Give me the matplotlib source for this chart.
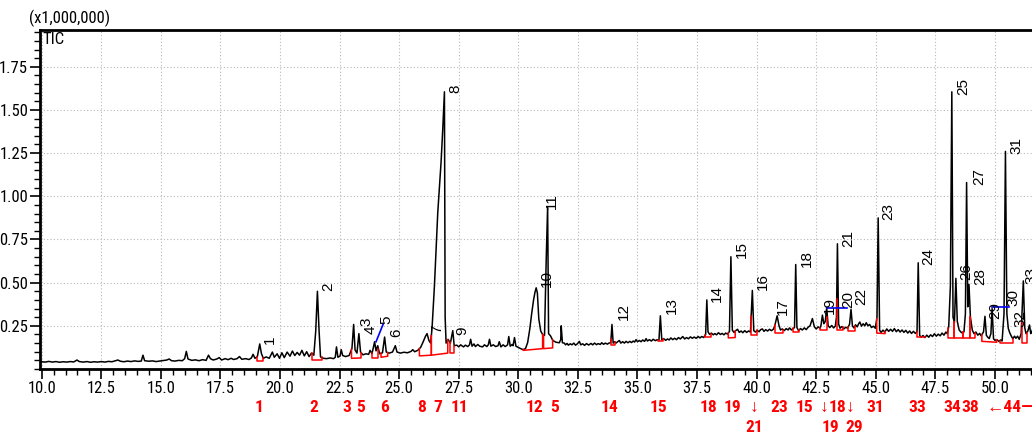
import matplotlib
matplotlib.use("Agg")
import matplotlib.pyplot as plt
import matplotlib.transforms as mtransforms
from matplotlib import font_manager
from matplotlib.ticker import MultipleLocator, FormatStrFormatter
import numpy as np

# the original uses a narrow Arial-like face; take a condensed one when it is there
installed = {f.name for f in font_manager.fontManager.ttflist}
condensed = [n for n in ['Liberation Sans Narrow', 'Arial Narrow', 'Roboto Condensed',
                         'Open Sans Condensed', 'DejaVu Sans Condensed'] if n in installed]
if condensed:
    narrow = [condensed[0], 'Liberation Sans', 'DejaVu Sans']
    fs = 12
else:
    narrow = ['Liberation Sans', 'DejaVu Sans']
    fs = 10
regular = ['Liberation Sans', 'DejaVu Sans']
plt.rcParams['font.family'] = narrow

# TIC trace: (retention time min, intensity x1,000,000)
trace = [
    (10.0, 0.042), (10.15, 0.040), (10.3, 0.044), (10.45, 0.040), (10.6, 0.043), (10.75, 0.039),
    (10.9, 0.042), (11.05, 0.040), (11.2, 0.043), (11.35, 0.041), (11.48, 0.052), (11.58, 0.043),
    (11.75, 0.040), (11.9, 0.043), (12.05, 0.039), (12.2, 0.042), (12.35, 0.040), (12.5, 0.043),
    (12.65, 0.040), (12.8, 0.044), (12.95, 0.042), (13.1, 0.048), (13.2, 0.052), (13.3, 0.045),
    (13.45, 0.042), (13.6, 0.046), (13.75, 0.043), (13.9, 0.047), (14.05, 0.044), (14.18, 0.046),
    (14.25, 0.080), (14.32, 0.048), (14.5, 0.045), (14.65, 0.047), (14.8, 0.043), (14.95, 0.046),
    (15.1, 0.049), (15.25, 0.052), (15.35, 0.058), (15.45, 0.048), (15.6, 0.046), (15.75, 0.050),
    (15.9, 0.048), (16.0, 0.060), (16.07, 0.102), (16.14, 0.058), (16.3, 0.050), (16.45, 0.053),
    (16.6, 0.048), (16.75, 0.054), (16.9, 0.050), (17.0, 0.080), (17.08, 0.060), (17.2, 0.052),
    (17.35, 0.058), (17.45, 0.066), (17.55, 0.052), (17.7, 0.060), (17.82, 0.054), (17.95, 0.062),
    (18.05, 0.055), (18.2, 0.060), (18.3, 0.072), (18.4, 0.056), (18.55, 0.060), (18.7, 0.055),
    (18.8, 0.064), (18.87, 0.085), (18.95, 0.062), (19.05, 0.072), (19.15, 0.145), (19.22, 0.090),
    (19.3, 0.062), (19.42, 0.070), (19.55, 0.062), (19.68, 0.098), (19.76, 0.068), (19.88, 0.088),
    (19.98, 0.062), (20.08, 0.094), (20.18, 0.066), (20.3, 0.098), (20.42, 0.074), (20.52, 0.104),
    (20.62, 0.078), (20.72, 0.096), (20.82, 0.080), (20.92, 0.108), (21.02, 0.076), (21.12, 0.100),
    (21.22, 0.072), (21.32, 0.092), (21.42, 0.080), (21.5, 0.22), (21.57, 0.45), (21.64, 0.22),
    (21.7, 0.070), (21.82, 0.062), (21.95, 0.060), (22.1, 0.064), (22.25, 0.060), (22.32, 0.068),
    (22.37, 0.128), (22.43, 0.068), (22.52, 0.075), (22.57, 0.112), (22.63, 0.078), (22.75, 0.072),
    (22.9, 0.078), (23.02, 0.120), (23.09, 0.258), (23.15, 0.110), (23.23, 0.092), (23.31, 0.205),
    (23.38, 0.098), (23.48, 0.082), (23.6, 0.088), (23.72, 0.085), (23.78, 0.108), (23.86, 0.088),
    (23.97, 0.158), (24.03, 0.105), (24.1, 0.135), (24.18, 0.088), (24.3, 0.094), (24.39, 0.185),
    (24.46, 0.098), (24.58, 0.092), (24.72, 0.098), (24.84, 0.135), (24.91, 0.098), (25.05, 0.092),
    (25.2, 0.097), (25.35, 0.094), (25.5, 0.102), (25.57, 0.112), (25.65, 0.100), (25.78, 0.108),
    (25.9, 0.125), (26.0, 0.155), (26.1, 0.188), (26.17, 0.205), (26.25, 0.165), (26.32, 0.150),
    (26.38, 0.235), (26.48, 0.480), (26.62, 0.905), (26.76, 1.200), (26.83, 1.390), (26.9, 1.605),
    (26.93, 0.300), (26.97, 0.150), (27.05, 0.172), (27.15, 0.150), (27.25, 0.222), (27.31, 0.135),
    (27.42, 0.138), (27.5, 0.128), (27.58, 0.140), (27.7, 0.128), (27.78, 0.138), (27.88, 0.130),
    (27.95, 0.140), (28.0, 0.172), (28.06, 0.132), (28.14, 0.145), (28.2, 0.130), (28.3, 0.142),
    (28.38, 0.132), (28.5, 0.128), (28.58, 0.140), (28.68, 0.130), (28.74, 0.140), (28.79, 0.172),
    (28.85, 0.132), (28.95, 0.140), (29.05, 0.130), (29.15, 0.135), (29.2, 0.158), (29.27, 0.128),
    (29.36, 0.140), (29.45, 0.130), (29.55, 0.140), (29.6, 0.188), (29.66, 0.132), (29.74, 0.142),
    (29.78, 0.135), (29.84, 0.182), (29.9, 0.132), (30.0, 0.125), (30.1, 0.118), (30.2, 0.112),
    (30.3, 0.118), (30.39, 0.152), (30.48, 0.230), (30.56, 0.320), (30.64, 0.400), (30.7, 0.445),
    (30.75, 0.470), (30.8, 0.440), (30.86, 0.290), (30.94, 0.220), (31.02, 0.200), (31.1, 0.195),
    (31.17, 0.630), (31.23, 0.940), (31.27, 0.205), (31.35, 0.192), (31.45, 0.165), (31.58, 0.155),
    (31.72, 0.152), (31.78, 0.170), (31.8, 0.250), (31.85, 0.152), (31.93, 0.150), (31.98, 0.140),
    (32.05, 0.148), (32.1, 0.138), (32.18, 0.146), (32.25, 0.140), (32.33, 0.150), (32.4, 0.138),
    (32.48, 0.146), (32.56, 0.160), (32.62, 0.140), (32.7, 0.146), (32.78, 0.137), (32.86, 0.147),
    (32.95, 0.139), (33.05, 0.148), (33.12, 0.140), (33.2, 0.150), (33.28, 0.141), (33.35, 0.147),
    (33.44, 0.142), (33.5, 0.152), (33.58, 0.143), (33.65, 0.150), (33.74, 0.144), (33.8, 0.150),
    (33.88, 0.152), (33.93, 0.258), (33.98, 0.150), (34.05, 0.158), (34.1, 0.150), (34.17, 0.158),
    (34.24, 0.165), (34.3, 0.150), (34.38, 0.158), (34.45, 0.150), (34.52, 0.160), (34.6, 0.152),
    (34.68, 0.160), (34.75, 0.153), (34.82, 0.162), (34.88, 0.156), (34.94, 0.170), (35.0, 0.158),
    (35.08, 0.165), (35.15, 0.158), (35.22, 0.168), (35.3, 0.160), (35.36, 0.176), (35.42, 0.162),
    (35.5, 0.170), (35.58, 0.162), (35.66, 0.172), (35.75, 0.164), (35.83, 0.170), (35.9, 0.164),
    (35.96, 0.308), (36.02, 0.168), (36.1, 0.176), (36.18, 0.166), (36.26, 0.174), (36.33, 0.168),
    (36.4, 0.180), (36.48, 0.170), (36.56, 0.178), (36.64, 0.170), (36.72, 0.182), (36.8, 0.174),
    (36.9, 0.188), (36.98, 0.174), (37.06, 0.182), (37.14, 0.175), (37.22, 0.186), (37.3, 0.178),
    (37.38, 0.185), (37.46, 0.178), (37.55, 0.188), (37.62, 0.180), (37.7, 0.188), (37.78, 0.182),
    (37.86, 0.200), (37.91, 0.400), (37.96, 0.215), (38.03, 0.200), (38.1, 0.208), (38.18, 0.198),
    (38.25, 0.205), (38.32, 0.198), (38.4, 0.210), (38.48, 0.200), (38.55, 0.206), (38.63, 0.198),
    (38.7, 0.208), (38.78, 0.202), (38.86, 0.218), (38.92, 0.650), (38.98, 0.225), (39.05, 0.212),
    (39.12, 0.222), (39.2, 0.230), (39.27, 0.212), (39.35, 0.220), (39.42, 0.210), (39.5, 0.222),
    (39.58, 0.212), (39.66, 0.220), (39.74, 0.214), (39.82, 0.455), (39.88, 0.222), (39.95, 0.214),
    (40.02, 0.224), (40.1, 0.216), (40.17, 0.228), (40.24, 0.232), (40.31, 0.218), (40.38, 0.228),
    (40.46, 0.220), (40.54, 0.230), (40.62, 0.222), (40.7, 0.230), (40.76, 0.250), (40.86, 0.308),
    (40.94, 0.250), (41.0, 0.226), (41.08, 0.232), (41.16, 0.222), (41.24, 0.234), (41.32, 0.226),
    (41.38, 0.238), (41.46, 0.226), (41.53, 0.234), (41.59, 0.240), (41.64, 0.605), (41.69, 0.240),
    (41.76, 0.222), (41.84, 0.234), (41.92, 0.226), (42.0, 0.238), (42.08, 0.228), (42.16, 0.242),
    (42.24, 0.250), (42.34, 0.292), (42.42, 0.245), (42.5, 0.232), (42.58, 0.244), (42.66, 0.236),
    (42.7, 0.252), (42.76, 0.312), (42.82, 0.262), (42.88, 0.275), (42.94, 0.355), (43.0, 0.250),
    (43.07, 0.240), (43.15, 0.252), (43.23, 0.238), (43.3, 0.248), (43.35, 0.300), (43.39, 0.725),
    (43.44, 0.260), (43.5, 0.236), (43.58, 0.246), (43.66, 0.232), (43.74, 0.242), (43.82, 0.236),
    (43.9, 0.260), (43.96, 0.345), (44.02, 0.250), (44.08, 0.238), (44.15, 0.256), (44.22, 0.244),
    (44.28, 0.262), (44.33, 0.272), (44.4, 0.248), (44.47, 0.262), (44.54, 0.250), (44.6, 0.268),
    (44.67, 0.250), (44.74, 0.258), (44.82, 0.240), (44.9, 0.248), (44.98, 0.236), (45.05, 0.300),
    (45.1, 0.875), (45.16, 0.225), (45.22, 0.212), (45.3, 0.225), (45.38, 0.214), (45.46, 0.232),
    (45.54, 0.218), (45.62, 0.230), (45.7, 0.218), (45.78, 0.234), (45.86, 0.216), (45.94, 0.228),
    (46.02, 0.214), (46.1, 0.226), (46.18, 0.212), (46.26, 0.224), (46.34, 0.208), (46.42, 0.220),
    (46.5, 0.206), (46.58, 0.218), (46.66, 0.206), (46.73, 0.216), (46.78, 0.615), (46.84, 0.195),
    (46.9, 0.184), (46.98, 0.194), (47.06, 0.182), (47.14, 0.196), (47.22, 0.184), (47.3, 0.198),
    (47.38, 0.188), (47.46, 0.204), (47.54, 0.190), (47.62, 0.202), (47.7, 0.192), (47.78, 0.208),
    (47.86, 0.196), (47.94, 0.214), (48.0, 0.205), (48.06, 0.245), (48.13, 0.480), (48.19, 1.605),
    (48.24, 0.300), (48.3, 0.270), (48.36, 0.525), (48.42, 0.275), (48.5, 0.225), (48.6, 0.210),
    (48.7, 0.215), (48.76, 0.320), (48.81, 1.080), (48.86, 0.360), (48.91, 0.490), (48.97, 0.300),
    (49.05, 0.225), (49.12, 0.205), (49.2, 0.214), (49.28, 0.196), (49.36, 0.206), (49.42, 0.192),
    (49.52, 0.215), (49.58, 0.305), (49.64, 0.195), (49.7, 0.184), (49.76, 0.176), (49.83, 0.205),
    (49.88, 0.350), (49.94, 0.175), (50.0, 0.166), (50.08, 0.170), (50.16, 0.160), (50.24, 0.168),
    (50.3, 0.162), (50.38, 0.320), (50.44, 1.260), (50.5, 0.320), (50.56, 0.235), (50.62, 0.210),
    (50.68, 0.192), (50.75, 0.175), (50.82, 0.190), (50.88, 0.178), (50.95, 0.190), (51.02, 0.172),
    (51.1, 0.205), (51.19, 0.510), (51.25, 0.240), (51.3, 0.205), (51.38, 0.220), (51.45, 0.255),
    (51.5, 0.205), (51.55, 0.215), (51.62, 0.250), (51.7, 0.220), (51.9, 0.230),
]
rt = [p[0] for p in trace]
tic = [p[1] for p in trace]

# peak numbers written above the peaks (bottom-centre of the rotated label)
peak_names = [str(i) for i in range(1, 34)]
label_rt = [19.58, 22.03, 23.61, 23.81, 24.48, 24.87, 26.58, 27.34, 27.63, 31.19, 31.40,
            34.41, 36.44, 38.35, 39.37, 40.28, 41.12, 42.10, 43.08, 43.85, 43.85, 44.41,
            45.53, 47.21, 48.67, 48.79, 49.33, 49.37, 50.00, 50.77, 50.91, 51.05, 51.55]
label_top = [0.147, 0.454, 0.249, 0.202, 0.263, 0.188, 0.210, 1.600, 0.194, 0.474, 0.927,
             0.282, 0.321, 0.389, 0.645, 0.456, 0.311, 0.591, 0.321, 0.354, 0.707, 0.373,
             0.861, 0.600, 1.584, 0.514, 1.063, 0.489, 0.292, 0.366, 1.246, 0.244, 0.494]

# integration baselines (red): start, end, base at start, base at end
integ_start = [19.02, 21.33, 23.00, 23.85, 24.24, 25.85, 26.35, 27.12, 30.21, 31.06, 33.89,
               35.88, 37.84, 38.81, 39.77, 40.77, 41.54, 42.66, 43.36, 43.85, 45.04, 46.72,
               48.05, 48.30, 48.68, 48.97, 49.45, 50.20, 51.12]
integ_end = [19.30, 21.75, 23.40, 24.13, 24.52, 26.35, 27.04, 27.32, 31.02, 31.44, 34.06,
             36.08, 38.07, 39.10, 40.03, 41.12, 41.79, 42.97, 43.61, 44.13, 45.39, 47.07,
             48.30, 48.68, 48.97, 49.17, 50.07, 50.75, 51.33]
integ_b0 = [0.045, 0.052, 0.062, 0.066, 0.068, 0.076, 0.080, 0.094, 0.108, 0.118, 0.140,
            0.160, 0.188, 0.180, 0.198, 0.208, 0.215, 0.228, 0.226, 0.222, 0.208, 0.188,
            0.180, 0.180, 0.180, 0.180, 0.160, 0.150, 0.150]
integ_b1 = [0.045, 0.052, 0.064, 0.066, 0.074, 0.080, 0.092, 0.094, 0.118, 0.122, 0.140,
            0.160, 0.188, 0.182, 0.198, 0.208, 0.215, 0.228, 0.226, 0.222, 0.205, 0.188,
            0.180, 0.180, 0.180, 0.180, 0.155, 0.150, 0.150]

# blue leader lines
blue_rt = [(24.03, 24.33), (42.94, 43.81), (49.88, 50.60)]
blue_val = [(0.158, 0.260), (0.355, 0.355), (0.360, 0.360)]

# red compound numbers under the axis
row1_text = ['1', '2', '3', '5', '6', '8', '7', '11', '12', '5', '14', '15', '18', '19', '\u2193',
             '23', '15', '\u2193', '18', '\u2193', '31', '33', '34', '38']
row1_rt = [19.13, 21.43, 22.81, 23.36, 24.38, 25.92, 26.62, 27.52, 30.70, 31.51, 33.82, 35.87,
           37.97, 39.00, 39.89, 40.94, 42.00, 42.84, 43.40, 43.92, 44.97, 46.74, 48.19, 48.98]
row2_text = ['21', '19', '29']
row2_rt = [39.89, 43.08, 44.09]

x_ticks = [10.0, 12.5, 15.0, 17.5, 20.0, 22.5, 25.0, 27.5, 30.0, 32.5, 35.0, 37.5, 40.0,
           42.5, 45.0, 47.5, 50.0]
y_ticks = [0.25, 0.50, 0.75, 1.00, 1.25, 1.50, 1.75]

fig = plt.figure(figsize=(10.32, 4.36), dpi=100)
ax = fig.add_axes([40 / 1032, 1 - 369 / 436, 1000 / 1032, 339 / 436])

ax.plot(rt, tic, color='black', lw=1.1, zorder=3)

for s, e, b0, b1 in zip(integ_start, integ_end, integ_b0, integ_b1):
    ys = np.interp(s, rt, tic)
    ye = np.interp(e, rt, tic)
    ax.plot([s, s, e, e], [ys, b0, b1, ye], color='red', lw=1.1, zorder=4)

for xs, ys in zip(blue_rt, blue_val):
    ax.plot(xs, ys, color='blue', lw=1.2, zorder=4)

for name, t, y in zip(peak_names, label_rt, label_top):
    ax.text(t, y, name, rotation=90, ha='center', va='bottom', fontsize=11,
            family=regular, clip_on=False, zorder=5)

ax.set_xlim(9.93, 51.89)
ax.set_ylim(0, 1.963)
ax.set_xticks(x_ticks)
ax.set_yticks(y_ticks)
ax.xaxis.set_major_formatter(FormatStrFormatter('%.1f'))
ax.yaxis.set_major_formatter(FormatStrFormatter('%.2f'))
ax.xaxis.set_minor_locator(MultipleLocator(0.5))
ax.yaxis.set_minor_locator(MultipleLocator(0.05))
ax.tick_params(which='major', direction='out', length=7, width=1.2, labelsize=fs, pad=1.5)
ax.tick_params(which='minor', direction='out', length=4, width=1.0)
ax.grid(True, which='major', color='#b8b8b8', linestyle=(0, (1, 2)), linewidth=0.8)
for side in ['left', 'bottom', 'top']:
    ax.spines[side].set_linewidth(2)
ax.spines['right'].set_visible(False)

fig.text(70 / 1032, 1 - 18 / 436, '(x1,000,000)', ha='center', va='center', fontsize=fs)
ax.text(0.002, 0.995, 'TIC', transform=ax.transAxes, ha='left', va='top', fontsize=fs)

red_fs = fs + 0.5
trans = mtransforms.blended_transform_factory(ax.transData, fig.transFigure)
for s, t in zip(row1_text, row1_rt):
    ax.text(t, 1 - 407 / 436, s, transform=trans, color='red', fontweight='bold',
            fontsize=red_fs, ha='center', va='center', family=narrow)
for s, t in zip(row2_text, row2_rt):
    ax.text(t, 1 - 427 / 436, s, transform=trans, color='red', fontweight='bold',
            fontsize=red_fs, ha='center', va='center', family=narrow)
ax.text(49.65, 1 - 407 / 436, '\u219044\u2014', transform=trans, color='red',
        fontweight='bold', fontsize=red_fs, ha='left', va='center', family=narrow)

fig.savefig('out.png', dpi=100)
